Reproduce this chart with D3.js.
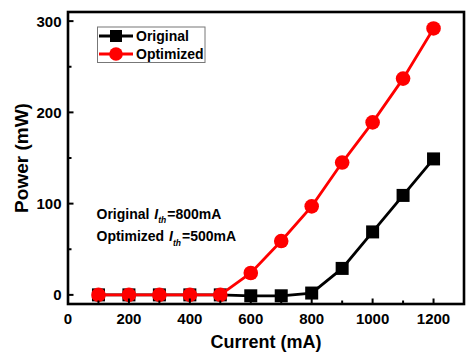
<!DOCTYPE html>
<html><head><meta charset="utf-8">
<script src="https://cdn.jsdelivr.net/npm/d3@7"></script>
<style>body{margin:0;background:#fff}svg{display:block}text{font-family:"Liberation Sans",Arial,sans-serif;font-weight:bold}</style>
</head><body><svg id="c" width="474" height="357"></svg>
<script>
const current = [100,200,300,400,500,600,700,800,900,1000,1100,1200];
const original = [0,0,0,0,0,-1,-1,2,29,69,109,149];
const optimized = [0,0,0,0,0,24,59,97,145,189,237,292];
const xTicks = [0,200,400,600,800,1000,1200];
const xMinor = [100,300,500,700,900,1100,1300];
const yTicks = [0,100,200,300];
const yMinor = [50,150,250];
const seriesNames = ["Original","Optimized"];
const notes = [["Original ","=800mA"],["Optimized ","=500mA"]];

const svg = d3.select("#c");
const x = d3.scaleLinear().domain([0,1300]).range([68,464]);
const y = d3.scaleLinear().domain([-10,310]).range([304,12]);

const line = d3.line().x((d,i)=>x(current[i])).y(d=>y(d));
function drawSeries(vals,color,shape){
  svg.append("path").attr("d",line(vals)).attr("fill","none").attr("stroke",color).attr("stroke-width",2.8);
  const g = svg.append("g");
  vals.forEach((v,i)=>{
    if(shape==="sq") g.append("rect").attr("x",x(current[i])-6.5).attr("y",y(v)-6.5).attr("width",13).attr("height",13).attr("fill",color);
    else g.append("circle").attr("cx",x(current[i])).attr("cy",y(v)).attr("r",7.3).attr("fill",color);
  });
}
drawSeries(original,"#000","sq");
drawSeries(optimized,"#ff0000","ci");

svg.append("rect").attr("x",x(0)).attr("y",y(310)).attr("width",x(1300)-x(0)).attr("height",y(-10)-y(310))
  .attr("fill","none").attr("stroke","#000").attr("stroke-width",2.6);

const ax = svg.append("g").attr("stroke","#000").attr("stroke-width",2);
yTicks.forEach(t=>ax.append("line").attr("x1",x(0)).attr("x2",x(0)+5.5).attr("y1",y(t)).attr("y2",y(t)));
yMinor.forEach(t=>ax.append("line").attr("x1",x(0)).attr("x2",x(0)+3.5).attr("y1",y(t)).attr("y2",y(t)));
xTicks.forEach(t=>ax.append("line").attr("x1",x(t)).attr("x2",x(t)).attr("y1",y(-10)).attr("y2",y(-10)-5.5));
xMinor.forEach(t=>ax.append("line").attr("x1",x(t)).attr("x2",x(t)).attr("y1",y(-10)).attr("y2",y(-10)-3.5));

svg.append("g").selectAll("text").data(yTicks).join("text")
  .attr("x",61.5).attr("y",d=>y(d)).attr("dy","0.36em").attr("text-anchor","end").attr("font-size",15).text(d=>d);
svg.append("g").selectAll("text").data(xTicks).join("text")
  .attr("x",d=>x(d)).attr("y",324).attr("text-anchor","middle").attr("font-size",15).text(d=>d);

svg.append("text").attr("x",(x(0)+x(1300))/2).attr("y",348).attr("text-anchor","middle").attr("font-size",18).text("Current (mA)");
svg.append("text").attr("transform",`translate(28,${(y(-10)+y(310))/2}) rotate(-90)`).attr("text-anchor","middle").attr("font-size",19).text("Power (mW)");

const lg = svg.append("g");
lg.append("rect").attr("x",97.5).attr("y",27).attr("width",107.5).attr("height",35.5).attr("fill","#fff").attr("stroke","#777").attr("stroke-width",1);
[["#000","sq"],["#ff0000","ci"]].forEach((s,i)=>{
  const cy = 36 + i*18;
  lg.append("line").attr("x1",99).attr("x2",133).attr("y1",cy).attr("y2",cy).attr("stroke",s[0]).attr("stroke-width",2.8);
  if(s[1]==="sq") lg.append("rect").attr("x",116-6).attr("y",cy-6).attr("width",12).attr("height",12).attr("fill",s[0]);
  else lg.append("circle").attr("cx",116).attr("cy",cy).attr("r",6.8).attr("fill",s[0]);
  lg.append("text").attr("x",136).attr("y",cy).attr("dy","0.36em").attr("font-size",14).text(seriesNames[i]);
});

notes.forEach((n,i)=>{
  const t = svg.append("text").attr("x",96.5).attr("y",218.5 + i*22.5).attr("font-size",14);
  t.append("tspan").text(n[0]);
  t.append("tspan").attr("font-style","italic").attr("dx",1).attr("font-size",14).text("I");
  t.append("tspan").attr("font-style","italic").attr("font-size",8.5).attr("dy",4.5).text("th");
  t.append("tspan").attr("dy",-4.5).attr("dx",1).text(n[1]);
});
</script></body></html>
